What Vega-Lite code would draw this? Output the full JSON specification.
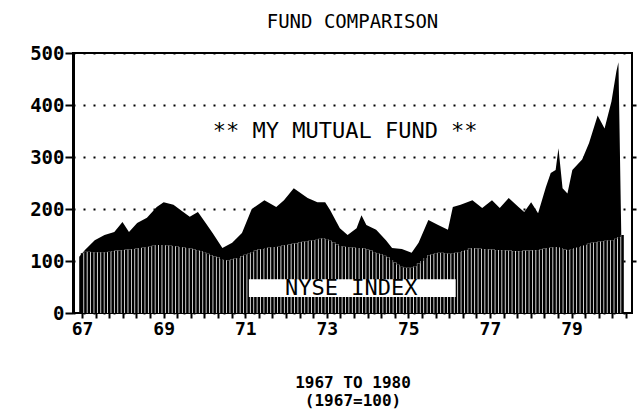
{
  "$schema": "https://vega.github.io/schema/vega-lite/v6.json",
  "width": 559,
  "height": 260,
  "autosize": "none",
  "padding": {"left": 73, "top": 53, "right": 9, "bottom": 101},
  "background": "white",
  "title": {"text": "FUND COMPARISON", "font": "DejaVu Sans Mono", "fontSize": 19, "fontWeight": "normal", "color": "black", "anchor": "middle", "offset": 12},
  "config": {"view": {"stroke": "black", "strokeWidth": 2}, "axis": {"labelOverlap": false}},
  "resolve": {"axis": {"x": "independent", "y": "independent"}},
  "datasets": {
    "fund": [
      {"t": 66.93, "v": 108}, {"t": 67.07, "v": 121}, {"t": 67.31, "v": 140}, {"t": 67.55, "v": 150},
      {"t": 67.79, "v": 156}, {"t": 67.99, "v": 175}, {"t": 68.15, "v": 156}, {"t": 68.35, "v": 173},
      {"t": 68.59, "v": 183}, {"t": 68.83, "v": 204}, {"t": 69.0, "v": 213}, {"t": 69.24, "v": 208},
      {"t": 69.48, "v": 194}, {"t": 69.64, "v": 185}, {"t": 69.84, "v": 194}, {"t": 70.03, "v": 173},
      {"t": 70.2, "v": 154}, {"t": 70.44, "v": 125}, {"t": 70.68, "v": 135}, {"t": 70.92, "v": 154},
      {"t": 71.16, "v": 200}, {"t": 71.47, "v": 217}, {"t": 71.76, "v": 204}, {"t": 71.95, "v": 217},
      {"t": 72.19, "v": 240}, {"t": 72.53, "v": 221}, {"t": 72.77, "v": 213}, {"t": 72.96, "v": 213},
      {"t": 73.08, "v": 198}, {"t": 73.32, "v": 163}, {"t": 73.51, "v": 150}, {"t": 73.73, "v": 163},
      {"t": 73.85, "v": 188}, {"t": 73.97, "v": 169}, {"t": 74.21, "v": 160}, {"t": 74.45, "v": 140},
      {"t": 74.6, "v": 125}, {"t": 74.84, "v": 123}, {"t": 75.08, "v": 116}, {"t": 75.25, "v": 135},
      {"t": 75.49, "v": 179}, {"t": 75.73, "v": 169}, {"t": 75.97, "v": 160}, {"t": 76.09, "v": 204},
      {"t": 76.28, "v": 208}, {"t": 76.57, "v": 217}, {"t": 76.81, "v": 202}, {"t": 77.05, "v": 217},
      {"t": 77.24, "v": 202}, {"t": 77.46, "v": 221}, {"t": 77.7, "v": 204}, {"t": 77.84, "v": 194},
      {"t": 78.01, "v": 213}, {"t": 78.18, "v": 192}, {"t": 78.37, "v": 242}, {"t": 78.49, "v": 269},
      {"t": 78.61, "v": 275}, {"t": 78.68, "v": 317}, {"t": 78.78, "v": 240}, {"t": 78.9, "v": 230},
      {"t": 79.02, "v": 275}, {"t": 79.26, "v": 295}, {"t": 79.43, "v": 327}, {"t": 79.64, "v": 380},
      {"t": 79.81, "v": 355}, {"t": 79.98, "v": 407}, {"t": 80.1, "v": 465}, {"t": 80.15, "v": 482},
      {"t": 80.22, "v": 150}
    ],
    "nyse": [
      {"t": 67.0, "v": 115}, {"t": 67.083, "v": 118}, {"t": 67.167, "v": 118}, {"t": 67.25, "v": 117},
      {"t": 67.333, "v": 117}, {"t": 67.417, "v": 117}, {"t": 67.5, "v": 117}, {"t": 67.583, "v": 117},
      {"t": 67.667, "v": 118}, {"t": 67.75, "v": 119}, {"t": 67.833, "v": 120}, {"t": 67.917, "v": 120},
      {"t": 68.0, "v": 121}, {"t": 68.083, "v": 122}, {"t": 68.167, "v": 122}, {"t": 68.25, "v": 123},
      {"t": 68.333, "v": 124}, {"t": 68.417, "v": 125}, {"t": 68.5, "v": 126}, {"t": 68.583, "v": 127},
      {"t": 68.667, "v": 128}, {"t": 68.75, "v": 130}, {"t": 68.833, "v": 131}, {"t": 68.917, "v": 131},
      {"t": 69.0, "v": 131}, {"t": 69.083, "v": 130}, {"t": 69.167, "v": 130}, {"t": 69.25, "v": 129},
      {"t": 69.333, "v": 128}, {"t": 69.417, "v": 127}, {"t": 69.5, "v": 126}, {"t": 69.583, "v": 125},
      {"t": 69.667, "v": 124}, {"t": 69.75, "v": 122}, {"t": 69.833, "v": 121}, {"t": 69.917, "v": 119},
      {"t": 70.0, "v": 117}, {"t": 70.083, "v": 114}, {"t": 70.167, "v": 111}, {"t": 70.25, "v": 109},
      {"t": 70.333, "v": 107}, {"t": 70.417, "v": 104}, {"t": 70.5, "v": 102}, {"t": 70.583, "v": 101},
      {"t": 70.667, "v": 103}, {"t": 70.75, "v": 105}, {"t": 70.833, "v": 106}, {"t": 70.917, "v": 109},
      {"t": 71.0, "v": 112}, {"t": 71.083, "v": 114}, {"t": 71.167, "v": 117}, {"t": 71.25, "v": 120},
      {"t": 71.333, "v": 122}, {"t": 71.417, "v": 123}, {"t": 71.5, "v": 125}, {"t": 71.583, "v": 126},
      {"t": 71.667, "v": 127}, {"t": 71.75, "v": 127}, {"t": 71.833, "v": 128}, {"t": 71.917, "v": 130},
      {"t": 72.0, "v": 131}, {"t": 72.083, "v": 132}, {"t": 72.167, "v": 133}, {"t": 72.25, "v": 134},
      {"t": 72.333, "v": 136}, {"t": 72.417, "v": 137}, {"t": 72.5, "v": 138}, {"t": 72.583, "v": 139},
      {"t": 72.667, "v": 140}, {"t": 72.75, "v": 141}, {"t": 72.833, "v": 143}, {"t": 72.917, "v": 144},
      {"t": 73.0, "v": 142}, {"t": 73.083, "v": 139}, {"t": 73.167, "v": 136}, {"t": 73.25, "v": 132},
      {"t": 73.333, "v": 129}, {"t": 73.417, "v": 128}, {"t": 73.5, "v": 127}, {"t": 73.583, "v": 126},
      {"t": 73.667, "v": 126}, {"t": 73.75, "v": 125}, {"t": 73.833, "v": 125}, {"t": 73.917, "v": 124},
      {"t": 74.0, "v": 122}, {"t": 74.083, "v": 120}, {"t": 74.167, "v": 117}, {"t": 74.25, "v": 115},
      {"t": 74.333, "v": 113}, {"t": 74.417, "v": 110}, {"t": 74.5, "v": 107}, {"t": 74.583, "v": 102},
      {"t": 74.667, "v": 97}, {"t": 74.75, "v": 93}, {"t": 74.833, "v": 89}, {"t": 74.917, "v": 87},
      {"t": 75.0, "v": 87}, {"t": 75.083, "v": 87}, {"t": 75.167, "v": 90}, {"t": 75.25, "v": 95},
      {"t": 75.333, "v": 100}, {"t": 75.417, "v": 106}, {"t": 75.5, "v": 111}, {"t": 75.583, "v": 113},
      {"t": 75.667, "v": 115}, {"t": 75.75, "v": 116}, {"t": 75.833, "v": 116}, {"t": 75.917, "v": 115},
      {"t": 76.0, "v": 114}, {"t": 76.083, "v": 115}, {"t": 76.167, "v": 116}, {"t": 76.25, "v": 117},
      {"t": 76.333, "v": 119}, {"t": 76.417, "v": 121}, {"t": 76.5, "v": 124}, {"t": 76.583, "v": 125},
      {"t": 76.667, "v": 124}, {"t": 76.75, "v": 124}, {"t": 76.833, "v": 123}, {"t": 76.917, "v": 123},
      {"t": 77.0, "v": 122}, {"t": 77.083, "v": 122}, {"t": 77.167, "v": 121}, {"t": 77.25, "v": 121},
      {"t": 77.333, "v": 121}, {"t": 77.417, "v": 120}, {"t": 77.5, "v": 120}, {"t": 77.583, "v": 119},
      {"t": 77.667, "v": 119}, {"t": 77.75, "v": 119}, {"t": 77.833, "v": 120}, {"t": 77.917, "v": 120},
      {"t": 78.0, "v": 120}, {"t": 78.083, "v": 121}, {"t": 78.167, "v": 121}, {"t": 78.25, "v": 122},
      {"t": 78.333, "v": 124}, {"t": 78.417, "v": 125}, {"t": 78.5, "v": 126}, {"t": 78.583, "v": 127},
      {"t": 78.667, "v": 127}, {"t": 78.75, "v": 125}, {"t": 78.833, "v": 122}, {"t": 78.917, "v": 121},
      {"t": 79.0, "v": 123}, {"t": 79.083, "v": 125}, {"t": 79.167, "v": 127}, {"t": 79.25, "v": 129},
      {"t": 79.333, "v": 131}, {"t": 79.417, "v": 133}, {"t": 79.5, "v": 135}, {"t": 79.583, "v": 136},
      {"t": 79.667, "v": 137}, {"t": 79.75, "v": 138}, {"t": 79.833, "v": 139}, {"t": 79.917, "v": 140},
      {"t": 80.0, "v": 140}, {"t": 80.083, "v": 143}, {"t": 80.167, "v": 146}, {"t": 80.25, "v": 150}
    ],
    "box": [{"t1": 71.09, "t2": 76.16, "v1": 31, "v2": 65}],
    "notes": [
      {"label": "** MY MUTUAL FUND **", "t": 73.45, "v": 350},
      {"label": "NYSE INDEX", "t": 73.6, "v": 48}
    ]
  },
  "layer": [
    {
      "data": {"name": "fund"},
      "mark": {"type": "area", "color": "black", "interpolate": "linear"},
      "encoding": {
        "x": {
          "field": "t", "type": "quantitative",
          "scale": {"domain": [66.9, 80.36], "nice": false, "zero": false},
          "axis": {
            "values": [67, 67.3333, 67.6667, 68, 68.3333, 68.6667, 69, 69.3333, 69.6667, 70, 70.3333, 70.6667, 71, 71.3333, 71.6667, 72, 72.3333, 72.6667, 73, 73.3333, 73.6667, 74, 74.3333, 74.6667, 75, 75.3333, 75.6667, 76, 76.3333, 76.6667, 77, 77.3333, 77.6667, 78, 78.3333, 78.6667, 79, 79.3333, 79.6667, 80, 80.3333],
            "labelExpr": "abs(datum.value - round(datum.value)) < 0.01 && round(datum.value) % 2 == 1 ? '' + round(datum.value) : ''",
            "labelOverlap": false,
            "labelFlush": false,
            "domain": false,
            "grid": false,
            "zindex": 1,
            "tickSize": 5, "tickWidth": 2, "tickColor": "black",
            "labelFont": "DejaVu Sans Mono", "labelFontSize": 18, "labelFontWeight": "bold", "labelColor": "black", "labelPadding": 2,
            "title": ["1967 TO 1980", "(1967=100)"],
            "titleFont": "DejaVu Sans Mono", "titleFontSize": 16, "titleFontWeight": "bold", "titleColor": "black",
            "titleLineHeight": 18, "titlePadding": 36
          }
        },
        "y": {
          "field": "v", "type": "quantitative",
          "scale": {"domain": [0, 500], "nice": false},
          "axis": {
            "values": [0, 100, 200, 300, 400, 500],
            "grid": true, "gridDash": [2, 8], "gridWidth": 2, "gridColor": "black", "gridOpacity": 1,
            "tickSize": 8, "tickWidth": 2, "tickColor": "black",
            "domainWidth": 3, "domainColor": "black",
            "labelFont": "DejaVu Sans Mono", "labelFontSize": 19, "labelFontWeight": "bold", "labelColor": "black", "labelPadding": 1,
            "title": null
          }
        }
      }
    },
    {
      "data": {"name": "nyse"},
      "mark": {"type": "area", "color": "white", "interpolate": "step", "opacity": 1},
      "encoding": {
        "x": {"field": "t", "type": "quantitative", "axis": null},
        "y": {"field": "v", "type": "quantitative", "axis": null}
      }
    },
    {
      "data": {"name": "nyse"},
      "mark": {"type": "bar", "color": "black", "width": 2.6},
      "encoding": {
        "x": {"field": "t", "type": "quantitative", "axis": null},
        "y": {"field": "v", "type": "quantitative", "axis": null}
      }
    },
    {
      "data": {"name": "box"},
      "mark": {"type": "rect", "color": "white", "opacity": 1},
      "encoding": {
        "x": {"field": "t1", "type": "quantitative", "axis": null},
        "x2": {"field": "t2"},
        "y": {"field": "v1", "type": "quantitative", "axis": {"orient": "right", "values": [100, 200, 300, 400], "labels": false, "domain": false, "grid": false, "ticks": true, "tickSize": 4, "tickWidth": 2, "tickColor": "black", "title": null}},
        "y2": {"field": "v2"}
      }
    },
    {
      "data": {"name": "notes"},
      "mark": {"type": "text", "font": "DejaVu Sans Mono", "fontSize": 22, "fontWeight": "normal", "color": "black", "align": "center", "baseline": "middle"},
      "encoding": {
        "x": {"field": "t", "type": "quantitative", "axis": null},
        "y": {"field": "v", "type": "quantitative", "axis": null},
        "text": {"field": "label"}
      }
    }
  ]
}
